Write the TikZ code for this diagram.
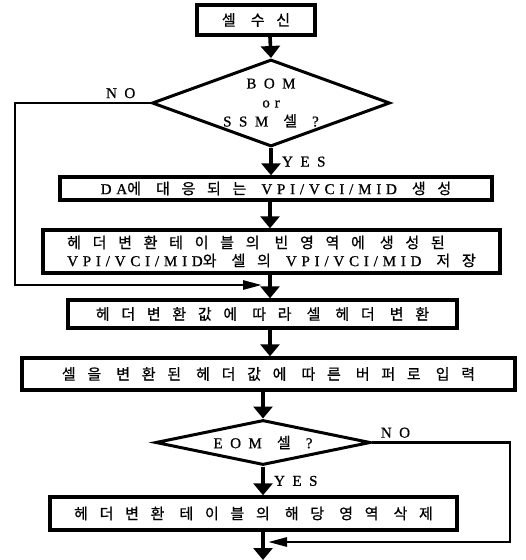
\documentclass[tikz,border=0pt]{standalone}
\usepackage{fontspec}
\setmainfont{Noto Sans CJK KR}[LetterSpace=78, FakeBold=0.8]
\newfontfamily\lat{Liberation Serif}[LetterSpace=32, FakeBold=0.8]
\usetikzlibrary{shapes.geometric,arrows.meta}

\tikzset{
  kasten/.style={draw, line width=3.4pt, inner sep=0pt, font=\fontsize{15}{18}\selectfont},
  raute/.style={draw, diamond, line width=3pt, inner sep=0pt, align=center, font=\fontsize{15}{19}\selectfont},
  pfeil/.style={line width=3.6pt, -{Triangle[length=12pt,width=19pt]}},
  nein/.style={line width=2.8pt, -{Triangle[length=19pt,width=9pt]}},
  marke/.style={font=\fontsize{15}{16}\selectfont\lat\addfontfeature{LetterSpace=50}}
}

\begin{document}
\begin{tikzpicture}[x=1pt,y=-1pt]
\useasboundingbox (0,0) rectangle (526,560);
%Knoten des Ablaufs
\node[kasten, minimum width=118, minimum height=30] (S) at (256,20) {셀 수신};
\node[raute, aspect=2.7, minimum width=238, minimum height=87] (D1) at (271,103) {{\lat\addfontfeature{LetterSpace=50}BOM}\\{\lat or}\\{\lat\addfontfeature{LetterSpace=50}SSM} 셀 {\lat ?}};
\node[kasten, minimum width=432, minimum height=23] (G) at (276,188.5) {{\lat DA}에 대응되는 {\lat VPI/VCI/MID} 생성};
\node[kasten, minimum width=457, minimum height=43, align=left] (T) at (271.5,251.5) {헤더변환테이블의 빈영역에 생성된\\{\lat VPI/VCI/MID}와 셀의 {\lat VPI/VCI/MID} 저장};
\node[kasten, minimum width=389, minimum height=28] (H) at (262.5,314) {헤더변환값에 따라 셀 헤더 변환};
\node[kasten, minimum width=493, minimum height=32] (B) at (268.5,374) {셀을 변환된 헤더값에 따른 버퍼로 입력};
\node[raute, aspect=4.8, minimum width=215, minimum height=45] (D2) at (263,442.5) {{\lat\addfontfeature{LetterSpace=50}EOM} 셀 {\lat ?}};
\node[kasten, minimum width=407, minimum height=33] (L) at (253.5,513.5) {헤더변환 테이블의 해당 영역 삭제};

%Hilfspunkte
\coordinate (M) at (270,0);
\coordinate (N) at (263,0);
\coordinate (NL) at (15,0);
\coordinate (NR) at (510,0);
\coordinate (J) at (262,285);
\coordinate (K) at (268,542);
\coordinate (X) at (263,560);

\path [pfeil]
(S.south -| M) edge (D1.north)
(D1.south) edge node [right, marke, xshift=6pt]{YES} (D1.south |- G.north)
(G.south -| M) edge (T.north -| M)
(T.south -| M) edge (H.north -| M)
(H.south -| M) edge (B.north -| M)
(B.south -| N) edge (D2.north)
(D2.south) edge node [right, marke, xshift=6pt]{YES} (D2.south |- L.north)
(L.south -| N) edge (X)
;
\draw [nein] (D1.west) -- node [above, marke, pos=0.22]{NO} (D1.west -| NL) |- (J);
\draw [nein] (D2.east) -- node [above, marke, pos=0.17]{NO} (D2.east -| NR) |- (K);
\end{tikzpicture}
\end{document}
